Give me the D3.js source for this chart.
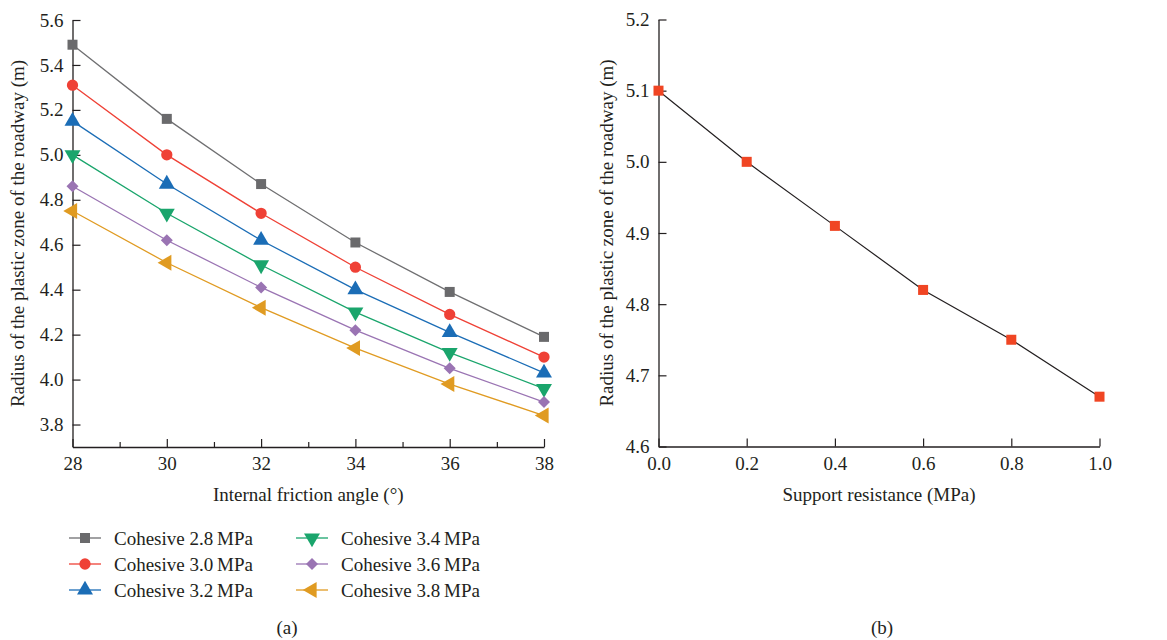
<!DOCTYPE html>
<html>
<head>
<meta charset="utf-8">
<script src="https://cdn.jsdelivr.net/npm/d3@7"></script>
<style>
body { margin: 0; background: #fff; }
svg text { font-family: "Liberation Serif", "DejaVu Serif", serif; fill: #231f20; }
</style>
</head>
<body>
<svg id="chart" width="1167" height="640"></svg>
<script>
// ---- Data (a) ----
const anglesA = [28, 30, 32, 34, 36, 38];
const seriesNames = ["Cohesive 2.8\u2009MPa", "Cohesive 3.0\u2009MPa", "Cohesive 3.2\u2009MPa", "Cohesive 3.4\u2009MPa", "Cohesive 3.6\u2009MPa", "Cohesive 3.8\u2009MPa"];
const coh28 = [5.49, 5.16, 4.87, 4.61, 4.39, 4.19];
const coh30 = [5.31, 5.00, 4.74, 4.50, 4.29, 4.10];
const coh32 = [5.15, 4.87, 4.62, 4.40, 4.21, 4.03];
const coh34 = [5.00, 4.74, 4.51, 4.30, 4.12, 3.96];
const coh36 = [4.86, 4.62, 4.41, 4.22, 4.05, 3.90];
const coh38 = [4.75, 4.52, 4.32, 4.14, 3.98, 3.84];
const yTicksA = [3.8, 4.0, 4.2, 4.4, 4.6, 4.8, 5.0, 5.2, 5.4, 5.6];
const xTicksA = [28, 30, 32, 34, 36, 38];
const xMinorA = [29, 31, 33, 35, 37];

// ---- Data (b) ----
const supportB = [0.0, 0.2, 0.4, 0.6, 0.8, 1.0];
const radiusB = [5.10, 5.00, 4.91, 4.82, 4.75, 4.67];
const xTicksB = [0.0, 0.2, 0.4, 0.6, 0.8, 1.0];
const yTicksB = [4.6, 4.7, 4.8, 4.9, 5.0, 5.1, 5.2];

const lineColors = ["#6f6f71", "#ef4136", "#1b6db6", "#1aa56c", "#9a74b3", "#e09b22"];
const markerColors = ["#6a6a6c", "#ef4136", "#1b6db6", "#1aa56c", "#9a74b3", "#e09b22"];
const seriesData = [coh28, coh30, coh32, coh34, coh36, coh38];

const svg = d3.select("#chart");
const textColor = "#231f20";
const fontSize = 19;

function markerPath(i) {
  const types = [d3.symbolSquare, d3.symbolCircle, d3.symbolTriangle, d3.symbolTriangle, d3.symbolSquare, d3.symbolTriangle];
  const sizes = [100, 100, 110, 110, 72, 110];
  return d3.symbol().type(types[i]).size(sizes[i])();
}
function markerRotate(i) {
  return i === 3 ? 180 : (i === 5 ? -90 : (i === 4 ? 45 : 0));
}

function styleAxis(g) {
  g.selectAll(".domain").attr("stroke", "#231f20").attr("stroke-width", 1.3);
  g.selectAll(".tick line").attr("stroke", "#231f20").attr("stroke-width", 1.2);
  g.selectAll(".tick text").attr("font-size", fontSize).attr("fill", textColor)
    .style("font-family", '"Liberation Serif", serif');
}

// ---------- Chart (a) ----------
{
  const left = 72.5, right = 544, top = 20, bottom = 447;
  const x = d3.scaleLinear().domain([28, 38]).range([left, right]);
  const y = d3.scaleLinear().domain([3.7, 5.6]).range([bottom, top]);
  const g = svg.append("g");

  const gxMinor = g.append("g").attr("transform", `translate(0,${bottom})`)
    .call(d3.axisBottom(x).tickValues(xMinorA).tickSize(-5).tickSizeOuter(0).tickFormat(""));
  gxMinor.select(".domain").remove();
  styleAxis(gxMinor);

  const gx = g.append("g").attr("transform", `translate(0,${bottom})`)
    .call(d3.axisBottom(x).tickValues(xTicksA).tickSize(-8).tickSizeOuter(0).tickPadding(10).tickFormat(d3.format("d")));
  styleAxis(gx);

  const gy = g.append("g").attr("transform", `translate(${left},0)`)
    .call(d3.axisLeft(y).tickValues(yTicksA).tickSize(-8).tickSizeOuter(0).tickPadding(9).tickFormat(d3.format(".1f")));
  styleAxis(gy);

  const line = d3.line().x((d, i) => x(anglesA[i])).y(d => y(d));
  seriesData.forEach((vals, si) => {
    g.append("path").datum(vals).attr("d", line)
      .attr("fill", "none").attr("stroke", lineColors[si]).attr("stroke-width", 1.3);
  });
  seriesData.forEach((vals, si) => {
    g.selectAll(null).data(vals).enter().append("path")
      .attr("d", markerPath(si))
      .attr("transform", (d, i) => `translate(${x(anglesA[i])},${y(d)}) rotate(${markerRotate(si)})`)
      .attr("fill", markerColors[si]);
  });

  g.append("text").attr("x", (left + right) / 2).attr("y", 501).attr("text-anchor", "middle")
    .attr("font-size", fontSize).text("Internal friction angle (°)");
  g.append("text").attr("transform", `translate(24,${(top + bottom) / 2}) rotate(-90)`)
    .attr("text-anchor", "middle").attr("font-size", fontSize)
    .text("Radius of the plastic zone of the roadway (m)");

  const legX = [69, 296];
  const legY = [538, 564, 590];
  seriesNames.forEach((name, si) => {
    const col = Math.floor(si / 3), row = si % 3;
    const lx = legX[col], ly = legY[row];
    const lg = g.append("g");
    lg.append("line").attr("x1", lx).attr("x2", lx + 32).attr("y1", ly).attr("y2", ly)
      .attr("stroke", lineColors[si]).attr("stroke-width", 1.3);
    lg.append("path").attr("d", markerPath(si))
      .attr("transform", `translate(${lx + 16},${ly}) rotate(${markerRotate(si)})`)
      .attr("fill", markerColors[si]);
    lg.append("text").attr("x", lx + 45).attr("y", ly).attr("dy", "0.35em")
      .attr("font-size", fontSize).text(name);
  });

  g.append("text").attr("x", 287).attr("y", 634).attr("text-anchor", "middle")
    .attr("font-size", fontSize).text("(a)");
}

// ---------- Chart (b) ----------
{
  const left = 658.5, right = 1099.5, top = 19.5, bottom = 446.5;
  const x = d3.scaleLinear().domain([0, 1]).range([left, right]);
  const y = d3.scaleLinear().domain([4.6, 5.2]).range([bottom, top]);
  const g = svg.append("g");

  const gx = g.append("g").attr("transform", `translate(0,${bottom})`)
    .call(d3.axisBottom(x).tickValues(xTicksB).tickSize(-8).tickSizeOuter(0).tickPadding(10).tickFormat(d3.format(".1f")));
  styleAxis(gx);

  const gy = g.append("g").attr("transform", `translate(${left},0)`)
    .call(d3.axisLeft(y).tickValues(yTicksB).tickSize(-8).tickSizeOuter(0).tickPadding(9).tickFormat(d3.format(".1f")));
  styleAxis(gy);

  const line = d3.line().x((d, i) => x(supportB[i])).y(d => y(d));
  g.append("path").datum(radiusB).attr("d", line)
    .attr("fill", "none").attr("stroke", "#231f20").attr("stroke-width", 1.2);
  g.selectAll(null).data(radiusB).enter().append("rect")
    .attr("x", (d, i) => x(supportB[i]) - 5).attr("y", d => y(d) - 5)
    .attr("width", 10).attr("height", 10).attr("fill", "#f04523");

  g.append("text").attr("x", (left + right) / 2).attr("y", 501).attr("text-anchor", "middle")
    .attr("font-size", fontSize).text("Support resistance (MPa)");
  g.append("text").attr("transform", `translate(613,${(top + bottom) / 2}) rotate(-90)`)
    .attr("text-anchor", "middle").attr("font-size", fontSize)
    .text("Radius of the plastic zone of the roadway (m)");

  g.append("text").attr("x", 882).attr("y", 634).attr("text-anchor", "middle")
    .attr("font-size", fontSize).text("(b)");
}
</script>
</body>
</html>
